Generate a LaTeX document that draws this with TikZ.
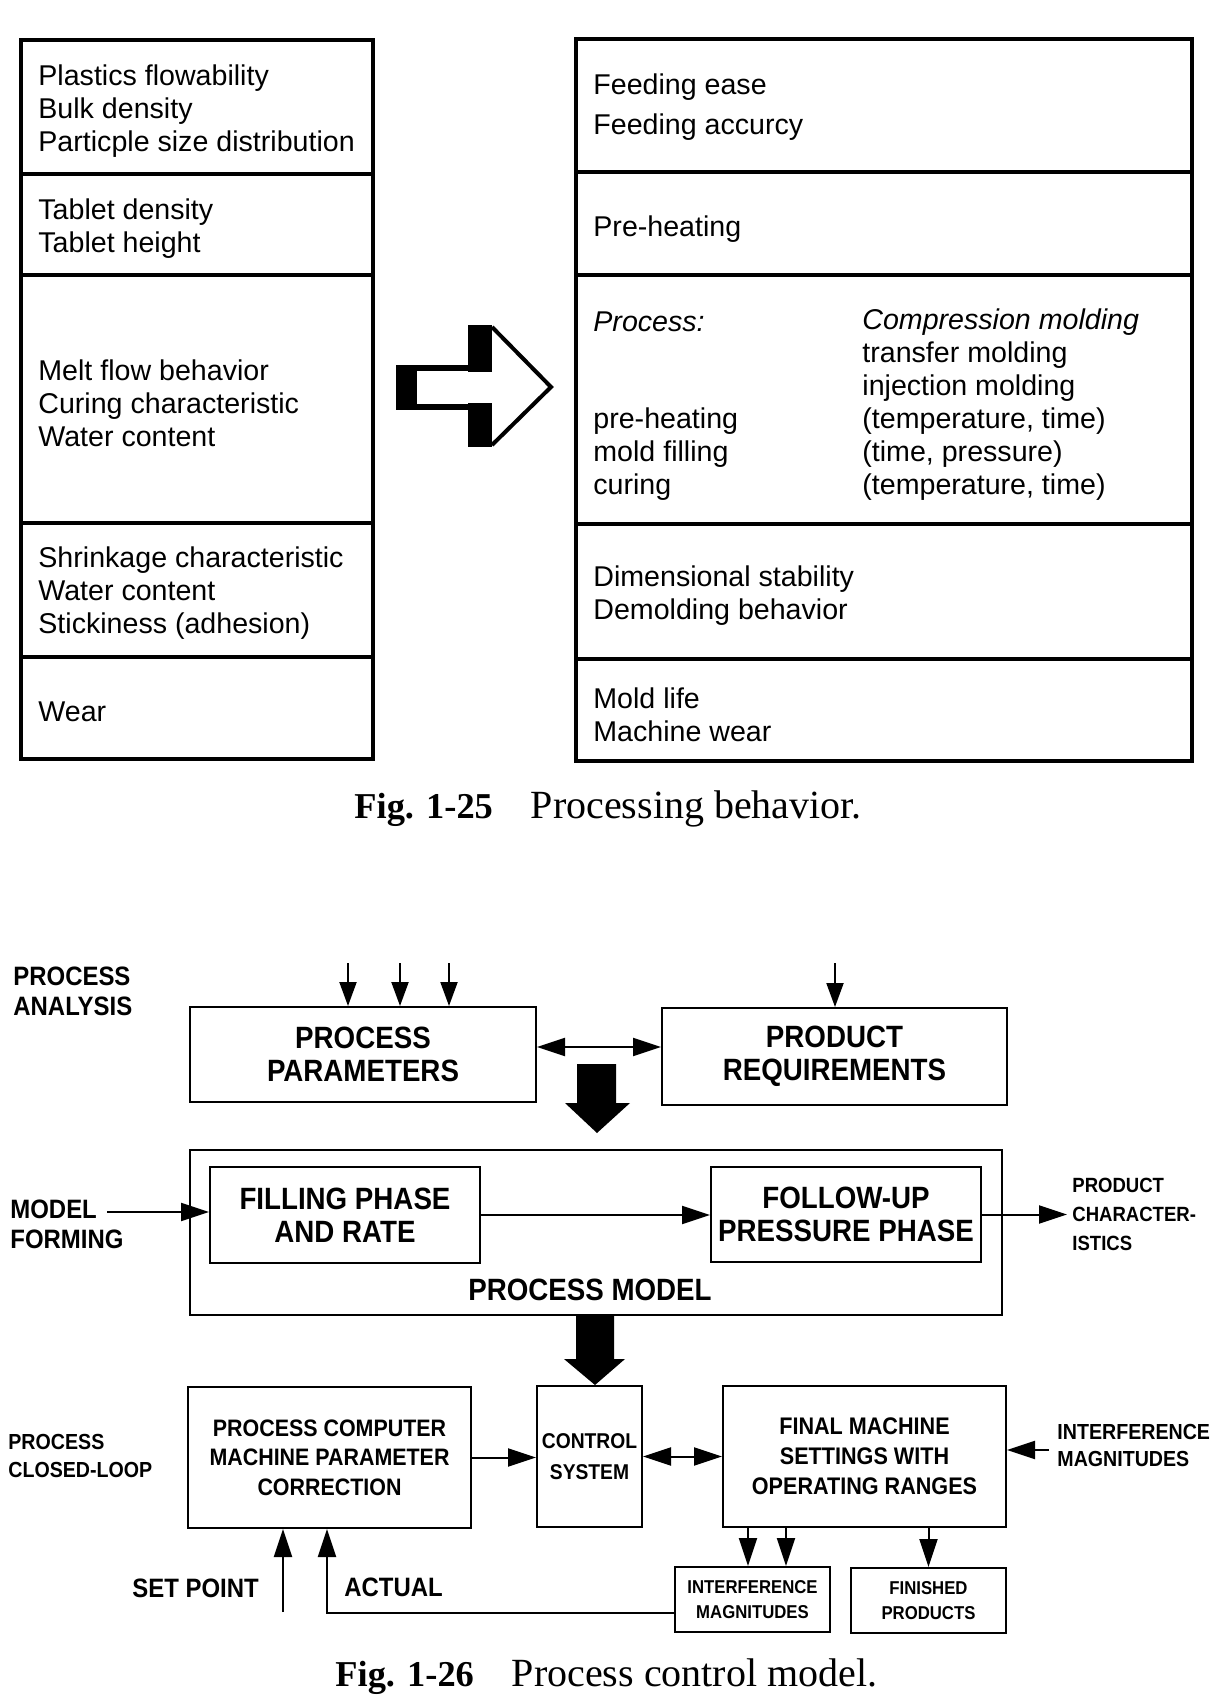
\documentclass[tikz,border=0pt]{standalone}
\usepackage{fontspec}
\setmainfont{Liberation Sans}
\newfontfamily\capfont{Liberation Serif}
\newfontfamily\cf[FakeStretch=0.9]{Liberation Sans}
\usetikzlibrary{arrows.meta,calc}
\newcommand{\figlab}[1]{{\fontsize{18.2}{23}\selectfont\bfseries #1}}
\begin{document}
\begin{tikzpicture}[x=0.5pt,y=-0.5pt,
  tx/.style={anchor=west, inner sep=0, align=left, font=\fontsize{14.3}{16.4}\selectfont},
  frameline/.style={line width=1.6pt},
  figcap/.style={anchor=west, inner sep=0, font=\capfont\fontsize{20}{23}\selectfont},
  b26/.style={draw, line width=1pt, inner sep=0, align=center},
  big/.style={font=\cf\bfseries\fontsize{15.4}{16.5}\selectfont},
  lbl/.style={anchor=west, inner sep=0, align=left, font=\cf\bfseries\fontsize{13.3}{15}\selectfont},
  arr/.style={line width=1pt, -{Triangle[length=14pt,width=9pt]}},
  tarr/.style={line width=1pt, -{Triangle[length=12pt,width=8.5pt]}},
  darr/.style={line width=1pt, {Triangle[length=14pt,width=9pt]}-{Triangle[length=14pt,width=9pt]}}]
\useasboundingbox (0,0) rectangle (1217,1707);

% ---------------- Fig. 1-25 ----------------
\draw[frameline] (21,40) rectangle (373,759);
\foreach \yy in {174,275,523,657} \draw[frameline] (21,\yy) -- (373,\yy);
\draw[frameline] (576,39) rectangle (1192,761);
\foreach \yy in {172,275,524,659} \draw[frameline] (576,\yy) -- (1192,\yy);

\node[tx] (l1) at (38,111) {Plastics flowability\\Bulk density\\Particple size distribution};
\node[tx] (l2) at (38,229) {Tablet density\\Tablet height};
\node[tx] (l3) at (38,403) {Melt flow behavior\\Curing characteristic\\Water content};
\node[tx] (l4) at (38,593) {Shrinkage characteristic\\Water content\\Stickiness (adhesion)};
\node[tx] (l5) at (38,712) {Wear};

\node[tx, font=\fontsize{14.3}{20.3}\selectfont] (r1) at (593,107) {Feeding ease\\Feeding accurcy};
\node[tx] (r2) at (593,229) {Pre-heating};
\node[tx] (r3a) at (593,322) {\itshape Process:};
\node[tx, font=\fontsize{14.3}{16.5}\selectfont] (r3b) at (593,454) {pre-heating\\mold filling\\curing};
\node[tx, font=\fontsize{14.3}{16.5}\selectfont] (r3c) at (862,404.5) {{\itshape Compression molding}\\transfer molding\\injection molding\\(temperature, time)\\(time, pressure)\\(temperature, time)};
\node[tx, font=\fontsize{14.3}{16.5}\selectfont] (r4) at (593,596) {Dimensional stability\\Demolding behavior};
\node[tx, font=\fontsize{14.3}{16.5}\selectfont] (r5) at (593,715) {Mold life\\Machine wear};

% block arrow
\fill (396,365) rectangle (417,410);
\fill (417,365) rectangle (470,371);
\fill (417,404) rectangle (470,410);
\fill (468,325) rectangle (492,372);
\fill (468,403) rectangle (492,447);
\draw[line width=2pt, line join=miter] (492,327) -- (551,387) -- (492,445);

\node[figcap] (c1) at (354,809) {\figlab{Fig. 1-25}\hspace{19pt}Processing behavior.};

% ---------------- Fig. 1-26 ----------------
\node[lbl] (pa) at (13,991.5) {PROCESS\\ANALYSIS};
\node[b26, big, minimum width=173pt, minimum height=47.5pt] (pp) at (363,1054.5) {PROCESS\\PARAMETERS};
\node[b26, big, minimum width=172.5pt, minimum height=48.5pt] (pr) at (834.5,1056.5) {PRODUCT\\REQUIREMENTS};

\foreach \xx [count=\i] in {348,400,449} {
  \coordinate (ip\i) at (\xx,963);
  \draw[tarr] (ip\i) -- (ip\i |- pp.north);
}
\coordinate (ir) at (835,963);
\draw[tarr] (ir) -- (ir |- pr.north);
\coordinate (d1) at ($(pp.east)+(0,-7.5)$);
\draw[darr] (d1) -- (d1 -| pr.west);

\fill (577,1064) -- (616,1064) -- (616,1103) -- (630,1103) -- (597,1133) -- (565,1103) -- (577,1103) -- cycle;

\node[b26, minimum width=406pt, minimum height=82.5pt] (pm) at (596,1232.5) {};
\node[big, inner sep=0] (pml) at (590,1290) {PROCESS MODEL};
\node[b26, big, minimum width=135pt, minimum height=48pt] (fp) at (345,1215) {FILLING PHASE\\AND RATE};
\node[b26, big, minimum width=135pt, minimum height=47.5pt] (fu) at (846,1214.5) {FOLLOW-UP\\PRESSURE PHASE};
\node[lbl] (mf) at (10,1224) {MODEL\\FORMING};
\coordinate (mfs) at (107,1212);
\draw[arr] (mfs) -- (mfs -| fp.west);
\draw[arr] (fp.east) -- (fp.east -| fu.west);
\node[lbl, font=\cf\bfseries\fontsize{10.3}{14.5}\selectfont] (pch) at (1072,1214) {PRODUCT\\CHARACTER-\\ISTICS};
\draw[arr] (fu.east) -- ($(fu.east -| pch.west)+(-5,0)$);

\fill (576,1315) -- (614,1315) -- (614,1359) -- (625,1359) -- (595,1385) -- (564,1359) -- (576,1359) -- cycle;

\node[lbl, font=\cf\bfseries\fontsize{10.9}{14}\selectfont] (pcl) at (8,1456) {PROCESS\\CLOSED-LOOP};
\node[b26, font=\cf\bfseries\fontsize{11.9}{14.75}\selectfont, minimum width=141.5pt, minimum height=70.5pt] (pc) at (329.5,1457.5) {PROCESS COMPUTER\\MACHINE PARAMETER\\CORRECTION};
\node[b26, font=\cf\bfseries\fontsize{10.7}{15.5}\selectfont, minimum width=52.5pt, minimum height=70.5pt] (cs) at (589.5,1456.5) {CONTROL\\SYSTEM};
\node[b26, font=\cf\bfseries\fontsize{12}{15}\selectfont, minimum width=141.5pt, minimum height=70.5pt] (fm) at (864.5,1456.5) {FINAL MACHINE\\SETTINGS WITH\\OPERATING RANGES};
\node[lbl, font=\cf\bfseries\fontsize{10.9}{13.5}\selectfont] (irl) at (1057,1445.5) {INTERFERENCE\\MAGNITUDES};
\coordinate (ia) at (1049,1450);
\draw[arr] (ia) -- (ia -| fm.east);
\node[b26, font=\cf\bfseries\fontsize{9.3}{12.5}\selectfont, minimum width=77.5pt, minimum height=32.5pt] (im) at (752.5,1599.5) {INTERFERENCE\\MAGNITUDES};
\node[b26, font=\cf\bfseries\fontsize{9.3}{12.5}\selectfont, minimum width=77.5pt, minimum height=32.5pt] (fin) at (928.5,1600.5) {FINISHED\\PRODUCTS};

\draw[arr] (pc.east) -- (pc.east -| cs.west);
\draw[darr] (cs.east) -- (cs.east -| fm.west);
\coordinate (a1) at (748,0);
\coordinate (a2) at (786,0);
\draw[arr] (fm.south -| a1) -- (im.north -| a1);
\draw[arr] (fm.south -| a2) -- (im.north -| a2);
\draw[arr] (fm.south -| fin.north) -- (fin.north);
\coordinate (fb) at ($(im.west)+(0,13.5)$);
\draw[arr] (fb) -| ($(pc.south)+(-2.5,0)$);
\coordinate (sp) at (283,1612);
\draw[arr] (sp) -- (sp |- pc.south);
\node[lbl] (spl) at (132,1588) {SET POINT};
\node[lbl] (act) at (344,1587) {ACTUAL};

\node[figcap] (c2) at (335,1677) {\figlab{Fig. 1-26}\hspace{19pt}Process control model.};
\end{tikzpicture}
\end{document}
